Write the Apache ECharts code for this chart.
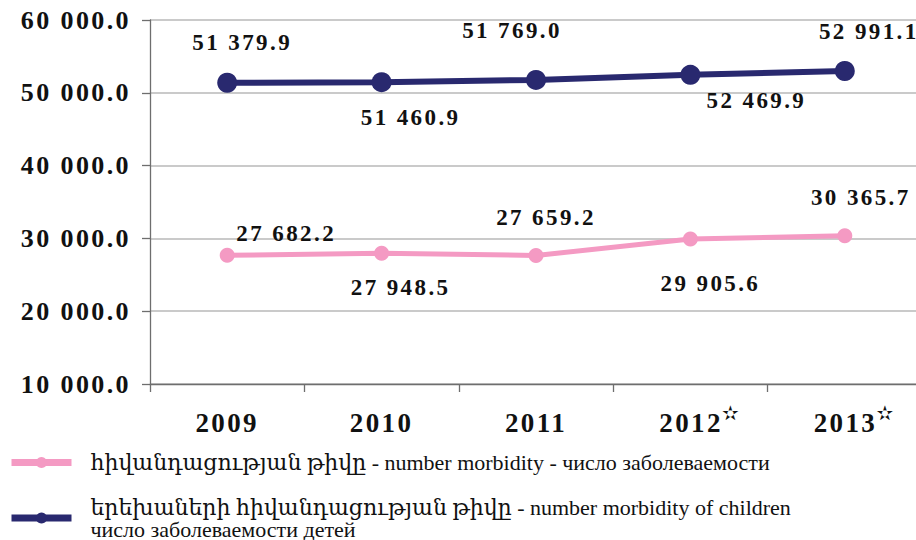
<!DOCTYPE html>
<html>
<head>
<meta charset="utf-8">
<script src="https://cdn.jsdelivr.net/npm/echarts@6/dist/echarts.min.js"></script>
<style>
  html, body { margin: 0; padding: 0; background: #ffffff; }
  #chart { width: 916px; height: 540px; }
  /* serif numerals (axes and value labels) are set with a little tracking */
  #chart svg text[style*="Times New Roman"] { letter-spacing: 2.4px; }
</style>
</head>
<body>
<div id="chart"></div>
<script>
// Years on the category axis; the last two are preliminary figures (marked with a star)
const years = ['2009', '2010', '2011', '2012', '2013'];
const preliminary = [false, false, false, true, true];

// Number of registered cases
const morbidity = [27682.2, 27948.5, 27659.2, 29905.6, 30365.7];
const childMorbidity = [51379.9, 51460.9, 51769.0, 52469.9, 52991.1];

// Value axis range
const yMin = 10000;
const yMax = 60000;
const yStep = 10000;

const nameTotal = 'հիվանդացության թիվը - number morbidity - число заболеваемости';
const nameChildren = 'երեխաների հիվանդացության թիվը - number morbidity of children\nчисло заболеваемости детей';

// Where each value label sits relative to its point (px)
const totalLabelOffsets = [[59, -22], [19, 34], [10, -38], [20, 44], [16, -38]];
const childLabelOffsets = [[15, -40], [29, 35], [-24, -49], [66, 26], [24, -40]];

const SERIF = '"Liberation Serif", "Times New Roman", "DejaVu Serif", serif';
const LEGEND_FONT = '"Liberation Serif", "DejaVu Serif", serif';
const NAVY = '#29296f';
const PINK = '#f49ac3';

// "51379.9" -> "51 379.9"
function fmt(v) {
  const parts = Number(v).toFixed(1).split('.');
  return parts[0].replace(/\B(?=(\d{3})+(?!\d))/g, ' ') + '.' + parts[1];
}

function withLabels(values, offsets) {
  return values.map((v, i) => ({ value: v, label: { offset: offsets[i] } }));
}

const chart = echarts.init(document.getElementById('chart'), null, { renderer: 'svg' });

const legendBase = {
  left: 8,
  padding: 0,
  itemWidth: 60,
  itemHeight: 14,
  itemGap: 0,
  lineStyle: { width: 7 }
};

const yearStyle = { fontFamily: SERIF, fontWeight: 'bold', fontSize: 27, color: '#111111' };

chart.setOption({
  animation: false,
  backgroundColor: '#ffffff',
  grid: { left: 150, top: 20, width: 772, height: 364, containLabel: false, outerBoundsMode: 'none' },
  xAxis: {
    type: 'category',
    data: years,
    boundaryGap: true,
    axisLine: { show: true, lineStyle: { color: '#6e6e6e', width: 1.3 } },
    axisTick: { show: true, length: 8, inside: false, alignWithLabel: false, lineStyle: { color: '#6e6e6e', width: 1.3 } },
    axisLabel: Object.assign({
      interval: 0,
      hideOverlap: false,
      margin: 19,
      lineHeight: 40,
      // a starred year keeps its digits centred on the band; the star hangs to the right
      formatter: (v, i) => preliminary[i] ? '{y|' + v + '}{s|✫}' : v,
      rich: {
        y: Object.assign({ lineHeight: 40, padding: [0, 0, 0, 22] }, yearStyle),
        s: { fontSize: 20, lineHeight: 12, fontWeight: 'bold', color: '#111111', fontFamily: '"DejaVu Sans", sans-serif', verticalAlign: 'top', padding: [0, 0, 0, 4] }
      }
    }, yearStyle),
    splitLine: { show: false }
  },
  yAxis: {
    type: 'value',
    min: yMin,
    max: yMax,
    interval: yStep,
    axisLine: { show: true, lineStyle: { color: '#6e6e6e', width: 1.3 } },
    axisTick: { show: true, length: 8, inside: false, lineStyle: { color: '#6e6e6e', width: 1.3 } },
    axisLabel: {
      margin: 19,
      color: '#111111',
      fontFamily: SERIF,
      fontWeight: 'bold',
      fontSize: 26,
      formatter: v => fmt(v)
    },
    splitLine: { show: true, lineStyle: { color: '#cacaca', width: 1.8 } }
  },
  legend: [
    Object.assign({ data: [nameTotal], top: 451 }, legendBase, {
      textStyle: { fontFamily: LEGEND_FONT, fontSize: 22, color: '#111111', lineHeight: 23, padding: [0, 0, 0, 14] }
    }),
    Object.assign({ data: [nameChildren], top: 496 }, legendBase, {
      textStyle: { fontFamily: LEGEND_FONT, fontSize: 22, color: '#111111', lineHeight: 22, padding: [0, 0, 0, 14] }
    })
  ],
  series: [
    {
      name: nameTotal,
      type: 'line',
      data: withLabels(morbidity, totalLabelOffsets),
      color: PINK,
      symbol: 'circle',
      symbolSize: 15,
      lineStyle: { width: 5, color: PINK },
      itemStyle: { color: PINK },
      label: {
        show: true,
        position: 'inside',
        formatter: p => fmt(p.value),
        fontFamily: SERIF,
        fontSize: 23,
        fontWeight: 'bold',
        color: '#111111'
      },
      z: 3
    },
    {
      name: nameChildren,
      type: 'line',
      data: withLabels(childMorbidity, childLabelOffsets),
      color: NAVY,
      symbol: 'circle',
      symbolSize: 20,
      lineStyle: { width: 6, color: NAVY },
      itemStyle: { color: NAVY },
      label: {
        show: true,
        position: 'inside',
        formatter: p => fmt(p.value),
        fontFamily: SERIF,
        fontSize: 23,
        fontWeight: 'bold',
        color: '#111111'
      },
      z: 4
    }
  ]
});
</script>
</body>
</html>
